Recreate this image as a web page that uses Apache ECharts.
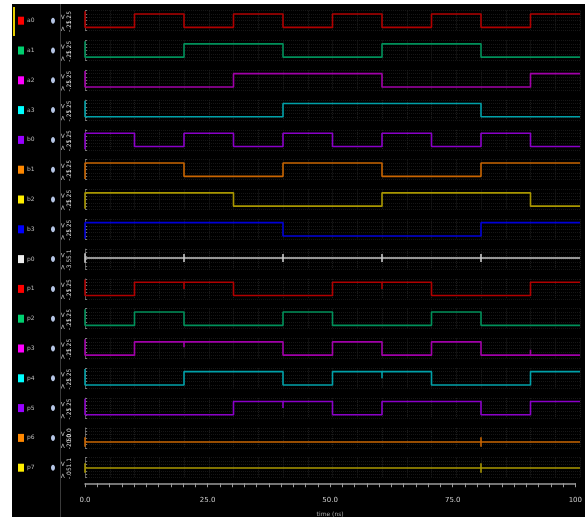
<!DOCTYPE html>
<html>
<head>
<meta charset="UTF-8">
<title>waveforms</title>
<script src="https://cdn.jsdelivr.net/npm/echarts@6/dist/echarts.min.js"></script>
<style>
  html, body { margin: 0; background: #fff; }
  #main { width: 585px; height: 517px; }
</style>
</head>
<body>
<div id="main"></div>
<script>
  // signal names, top to bottom
  var names = ['a0', 'a1', 'a2', 'a3', 'b0', 'b1', 'b2', 'b3', 'p0', 'p1', 'p2', 'p3', 'p4', 'p5', 'p6', 'p7'];
  var lineColors = ['#b00000', '#00905a', '#a000a8', '#00a0a8', '#8a00c8', '#c86400', '#a89600', '#0000d8',
                    '#c8c8c8', '#b00000', '#00905a', '#a000a8', '#00a0a8', '#8a00c8', '#c86400', '#a89600'];
  var boxColors = ['#ff0000', '#00d070', '#ff00ff', '#00ffff', '#9900ff', '#ff8800', '#ffee00', '#0000ff',
                   '#eeeeee', '#ff0000', '#00d070', '#ff00ff', '#00ffff', '#9900ff', '#ff8800', '#ffee00'];

  // level in each 10 ns slot, 0..100 ns
  var levels = {
    a0: [0, 1, 0, 1, 0, 1, 0, 1, 0, 1],
    a1: [0, 0, 1, 1, 0, 0, 1, 1, 0, 0],
    a2: [0, 0, 0, 1, 1, 1, 0, 0, 0, 1],
    a3: [0, 0, 0, 0, 1, 1, 1, 1, 0, 0],
    b0: [1, 0, 1, 0, 1, 0, 1, 0, 1, 0],
    b1: [1, 1, 0, 0, 1, 1, 0, 0, 1, 1],
    b2: [1, 1, 1, 0, 0, 0, 1, 1, 1, 0],
    b3: [1, 1, 1, 1, 0, 0, 0, 0, 1, 1],
    p0: [0.58, 0.58, 0.58, 0.58, 0.58, 0.58, 0.58, 0.58, 0.58, 0.58],
    p1: [0, 1, 1, 0, 0, 1, 1, 0, 0, 1],
    p2: [0, 1, 0, 0, 1, 0, 0, 1, 0, 0],
    p3: [0, 1, 1, 1, 0, 1, 0, 1, 0, 0],
    p4: [0, 0, 1, 1, 0, 1, 1, 0, 0, 1],
    p5: [0, 0, 0, 1, 1, 0, 1, 1, 0, 1],
    p6: [0.19, 0.19, 0.19, 0.19, 0.19, 0.19, 0.19, 0.19, 0.19, 0.19],
    p7: [0.48, 0.48, 0.48, 0.48, 0.48, 0.48, 0.48, 0.48, 0.48, 0.48]
  };

  // glitches: [time, up, down]
  var glitches = {
    p0: [[10, 0.15, -0.15], [20, 0.3, -0.3], [30, 0.15, -0.15], [40, 0.3, -0.3], [50, 0.15, -0.15],
         [60, 0.3, -0.3], [70, 0.15, -0.15], [80, 0.3, -0.3], [90, 0.15, -0.15]],
    p1: [[20, 0, -0.5], [60, 0, -0.5]],
    p3: [[20, 0, -0.4], [90, 0.4, 0]],
    p4: [[60, 0, -0.5]],
    p5: [[40, 0, -0.5]],
    p6: [[80, 0.35, -0.35]],
    p7: [[80, 0.35, -0.35]]
  };

  var topLabels = ['1.25', '1.25', '1.25', '1.25', '1.25', '1.25', '1.25', '1.25',
                   '5.1', '1.25', '1.25', '1.25', '1.25', '1.25', '50.0', '1.1'];
  var bottomLabels = ['-.25', '-.25', '-.25', '-.25', '-.25', '-.25', '-.25', '-.25',
                      '-3.5', '-.25', '-.25', '-.25', '-.25', '-.25', '-20.0', '-.05'];
  var timeLabels = ['0.0', '25.0', '50.0', '75.0', '100'];

  function isConst(lv) {
    return lv.every(function (v) { return v === lv[0]; }) && lv[0] !== 0 && lv[0] !== 1;
  }

  function wave(name) {
    var lv = levels[name];
    var gl = glitches[name] || [];
    var d = [];
    if (isConst(lv)) {
      d.push([0, lv[0] + 0.35], [0, lv[0] - 0.35]);
    } else {
      // entry edge from undefined state
      d.push([0, lv[0] === 1 ? -0.2 : 1.2]);
    }
    d.push([0, lv[0]]);
    for (var i = 1; i < lv.length; i++) {
      var t = i * 10, prev = lv[i - 1], cur = lv[i];
      d.push([t, prev]);
      gl.forEach(function (g) {
        if (g[0] === t) {
          d.push([t, prev + g[1]], [t, prev + g[2]], [t, prev]);
        }
      });
      if (cur !== prev) d.push([t, cur]);
    }
    d.push([100, lv[lv.length - 1]]);
    return d;
  }

  function rowY(k) { return 14 + 29.8 * k; }

  var grids = [], xAxes = [], yAxes = [], series = [], graphics = [];

  // white edges of the window
  graphics.push({ type: 'rect', shape: { x: 0, y: 0, width: 12, height: 517 }, style: { fill: '#fff' } });
  graphics.push({ type: 'rect', shape: { x: 0, y: 0, width: 585, height: 4 }, style: { fill: '#fff' } });
  // yellow selection bar
  graphics.push({ type: 'rect', shape: { x: 13, y: 7, width: 2, height: 29 }, style: { fill: '#e8d000' } });
  // separator
  graphics.push({ type: 'line', shape: { x1: 60.5, y1: 4, x2: 60.5, y2: 517 }, style: { stroke: '#3a3a3a', lineWidth: 1 } });

  names.forEach(function (n, k) {
    var top = rowY(k) - 3.3;
    grids.push({ left: 85, width: 495, top: top, height: 20 });
    xAxes.push({
      type: 'value', gridIndex: k, min: 0, max: 100, interval: 5,
      axisLine: { show: false }, axisTick: { show: false }, axisLabel: { show: false },
      splitLine: { show: true, lineStyle: { color: '#1f1f1f', type: 'dotted' } }
    });
    yAxes.push({
      type: 'value', gridIndex: k, min: -0.25, max: 1.25, interval: 0.25, offset: 3,
      axisLine: { show: true, lineStyle: { color: '#5a5a5a' } },
      axisTick: { show: true, inside: true, length: 2, lineStyle: { color: '#777' } },
      axisLabel: { show: false },
      splitLine: { show: true, lineStyle: { color: '#161616', type: 'dotted' } }
    });
    series.push({
      type: 'line', xAxisIndex: k, yAxisIndex: k, data: wave(n),
      showSymbol: false, symbol: 'none', animation: false, clip: false,
      lineStyle: { color: lineColors[k], width: 1.6 }
    });

    var cy = rowY(k) + 6.7;
    graphics.push({ type: 'rect', shape: { x: 18, y: cy - 4, width: 6, height: 8 }, style: { fill: boxColors[k] } });
    graphics.push({
      type: 'text', x: 27, y: cy,
      style: { text: n, fill: '#bbb', font: '6px "DejaVu Sans"', textVerticalAlign: 'middle' }
    });
    graphics.push({ type: 'ellipse', shape: { cx: 53, cy: cy, rx: 2, ry: 3 }, style: { fill: '#b4c4e4' } });
    graphics.push({
      type: 'text', x: 63, y: cy - 4, rotation: Math.PI / 2,
      style: { text: '<', fill: '#ccc', font: '7px "DejaVu Sans"', textAlign: 'center', textVerticalAlign: 'middle' }
    });
    graphics.push({
      type: 'text', x: 63, y: cy + 8, rotation: Math.PI / 2,
      style: { text: '>', fill: '#ccc', font: '7px "DejaVu Sans"', textAlign: 'center', textVerticalAlign: 'middle' }
    });
    graphics.push({
      type: 'text', x: 69, y: rowY(k) - 3, rotation: Math.PI / 2,
      style: { text: topLabels[k], fill: '#ddd', font: '6px "DejaVu Sans"', textAlign: 'right', textVerticalAlign: 'middle' }
    });
    graphics.push({
      type: 'text', x: 69, y: rowY(k) + 18, rotation: Math.PI / 2,
      style: { text: bottomLabels[k], fill: '#ddd', font: '6px "DejaVu Sans"', textAlign: 'left', textVerticalAlign: 'middle' }
    });
  });

  // time axis at the bottom
  var tIdx = names.length;
  grids.push({ left: 85, width: 495, top: 483, height: 1 });
  xAxes.push({
    type: 'value', gridIndex: tIdx, min: 0, max: 100, interval: 2.5,
    name: 'time (ns)', nameLocation: 'middle', nameGap: 28,
    nameTextStyle: { color: '#aaa', fontSize: 6, fontFamily: 'DejaVu Sans' },
    axisLine: { show: true, lineStyle: { color: '#9a9a9a', width: 1.5 } },
    axisTick: { show: true, length: 4, lineStyle: { color: '#9a9a9a' } },
    axisLabel: {
      color: '#ccc', fontSize: 7, fontFamily: 'DejaVu Sans', margin: 13,
      formatter: function (v) { return v % 25 === 0 ? timeLabels[v / 25] : ''; }
    },
    splitLine: { show: false }
  });
  yAxes.push({ type: 'value', gridIndex: tIdx, show: false });

  var option = {
    backgroundColor: '#000',
    animation: false,
    grid: grids,
    xAxis: xAxes,
    yAxis: yAxes,
    series: series,
    graphic: graphics
  };
  echarts.init(document.getElementById('main')).setOption(option);
</script>
</body>
</html>
